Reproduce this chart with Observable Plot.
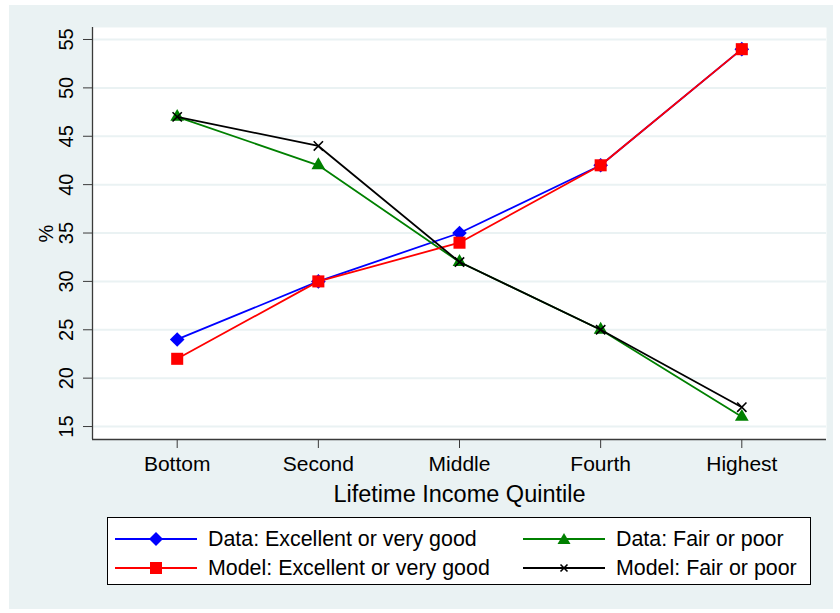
<!DOCTYPE html>
<html>
<head>
<meta charset="utf-8">
<script src="https://cdn.jsdelivr.net/npm/d3@7"></script>
<script src="https://cdn.jsdelivr.net/npm/@observablehq/plot@0.6"></script>
<style>
  html, body { margin: 0; padding: 0; background: #ffffff; }
  #wrap { position: relative; width: 840px; height: 613px; overflow: hidden; font-family: "Liberation Sans", Arial, sans-serif; }
  #bg { position: absolute; left: 9px; top: 5px; width: 824px; height: 604px; background: #eaf2f3; }
  #chart { position: absolute; left: 0; top: 0; }
  #legend { position: absolute; left: 107px; top: 517px; width: 702px; height: 66px; border: 1px solid #000; background: #fff; }
  .item { position: absolute; height: 24px; display: flex; align-items: center; }
  .item svg { display: block; }
  .item span { font-size: 21.4px; color: #000; margin-left: 11px; white-space: nowrap; }
</style>
</head>
<body>
<div id="wrap">
  <div id="bg"></div>
  <div id="chart"></div>
  <div id="legend"></div>
</div>
<script>
// ---- data ----
const quintiles = ["Bottom", "Second", "Middle", "Fourth", "Highest"];
const dataExcellent = [24, 30, 35, 42, 54];
const modelExcellent = [22, 30, 34, 42, 54];
const dataFair = [47, 42, 32, 25, 16];
const modelFair = [47, 44, 32, 25, 17];
const yTicks = [15, 20, 25, 30, 35, 40, 45, 50, 55];
const xTitle = "Lifetime Income Quintile";
const yTitle = "%";

const seriesNames = [
  "Data: Excellent or very good",
  "Data: Fair or poor",
  "Model: Excellent or very good",
  "Model: Fair or poor"
];
const seriesValues = [dataExcellent, dataFair, modelExcellent, modelFair];
const seriesColors = ["#0000ff", "#008000", "#ff0000", "#000000"];
const seriesSymbols = ["diamond2", "triangle", "square", "times"];
const seriesR = [6.6, 5.1, 6.8, 4.3];

const tables = seriesValues.map((vals, s) =>
  vals.map((v, i) => ({q: i + 1, v, series: seriesNames[s]}))
);

const xDomain = [0.4, 5.6];
const yDomain = [13.66, 56.24];
const gridColor = "#eaf2f3";
const axisColor = "#3a3a3a";

const marks = [
  Plot.frame({fill: "#ffffff", stroke: null}),
  Plot.gridY(yTicks, {stroke: gridColor, strokeOpacity: 1, strokeWidth: 2}),
  Plot.ruleX([xDomain[0]], {stroke: axisColor, strokeWidth: 1.3}),
  Plot.ruleY([yDomain[0]], {stroke: axisColor, strokeWidth: 1.3}),
  Plot.axisY(yTicks, {tickSize: 9, tickFormat: () => "", label: null, stroke: axisColor}),
  Plot.text(yTicks, {y: d => d, text: d => String(d), frameAnchor: "left", dx: -20, rotate: -90,
    textAnchor: "middle", lineAnchor: "bottom", fontSize: 20, fill: "#000"}),
  Plot.text([yTitle], {frameAnchor: "left", dx: -40, rotate: -90, textAnchor: "middle",
    lineAnchor: "bottom", fontSize: 20, fill: "#000"}),
  Plot.axisX([1, 2, 3, 4, 5], {tickSize: 9, tickPadding: 8, tickFormat: i => quintiles[i - 1],
    fontSize: 21, label: null, stroke: axisColor, fill: "#000"}),
  Plot.text([xTitle], {frameAnchor: "bottom", dy: 62, textAnchor: "middle", lineAnchor: "bottom",
    fontSize: 23.5, fill: "#000"})
];

tables.forEach((t, s) => {
  marks.push(Plot.line(t, {x: "q", y: "v", stroke: seriesColors[s], strokeWidth: 1.8}));
  if (seriesSymbols[s] === "times") {
    marks.push(Plot.dot(t, {x: "q", y: "v", symbol: () => "times", r: seriesR[s],
      stroke: seriesColors[s], strokeWidth: 1.6, fill: "none"}));
  } else {
    marks.push(Plot.dot(t, {x: "q", y: "v", symbol: () => seriesSymbols[s], r: seriesR[s],
      fill: seriesColors[s], stroke: "none"}));
  }
});

const chart = Plot.plot({
  width: 840,
  height: 510,
  marginTop: 27,
  marginLeft: 92,
  marginRight: 14,
  marginBottom: 71,
  x: {type: "linear", domain: xDomain, axis: null},
  y: {type: "linear", domain: yDomain, axis: null},
  symbol: {type: "identity"},
  style: {background: "transparent", fontFamily: "Liberation Sans, Arial, sans-serif", color: "#000", overflow: "visible"},
  marks
});
document.getElementById("chart").appendChild(chart);

// ---- legend ----
const legend = document.getElementById("legend");
const positions = [
  {left: 7, top: 9}, {left: 415, top: 9},
  {left: 7, top: 38}, {left: 415, top: 38}
];
const symbolPaths = {
  diamond2: '<path d="M41,4 L48,11 L41,18 L34,11 Z" />',
  triangle: '<path d="M41,5 L47.5,16 L34.5,16 Z" />',
  square: '<rect x="35" y="5" width="12" height="12" />',
  times: '<path d="M37.5,7.5 L44.5,14.5 M44.5,7.5 L37.5,14.5" stroke-width="1.6" fill="none" />'
};
seriesNames.forEach((name, s) => {
  const c = seriesColors[s];
  const sym = seriesSymbols[s];
  const symSvg = symbolPaths[sym].replace(/<(path|rect)/, sym === "times"
    ? `<$1 stroke="${c}"` : `<$1 fill="${c}"`);
  const div = document.createElement("div");
  div.className = "item";
  div.style.left = positions[s].left + "px";
  div.style.top = positions[s].top + "px";
  div.innerHTML = `<svg width="82" height="22" viewBox="0 0 82 22">
      <line x1="0" y1="11" x2="82" y2="11" stroke="${c}" stroke-width="1.8"/>
      ${symSvg}
    </svg><span>${name}</span>`;
  legend.appendChild(div);
});
</script>
</body>
</html>
